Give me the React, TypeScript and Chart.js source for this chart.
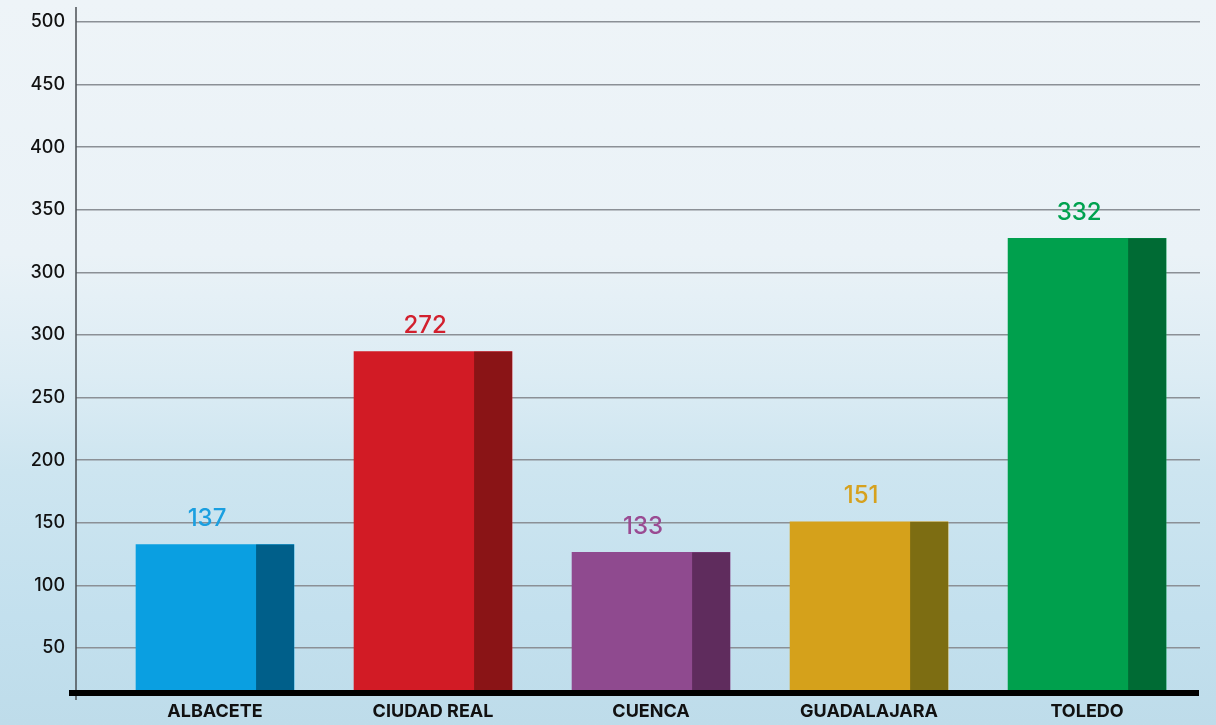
import React, { useEffect, useRef } from "react";
import { Chart, registerables } from "chart.js";

Chart.register(...registerables);

// ---- data ----
const categories = ["ALBACETE", "CIUDAD REAL", "CUENCA", "GUADALAJARA", "TOLEDO"];
// bar heights measured against the drawn gridlines (gridline units)
const barHeights = [132.7, 286.7, 126.4, 150.8, 377.2];
// value labels printed above the bars
const valueLabels = ["137", "272", "133", "151", "332"];
// gridline positions (gridline units) and the tick labels printed next to them
const gridValues = [50, 100, 150, 200, 250, 300, 350, 400, 450, 500, 550];
const yTickLabels = ["50", "100", "150", "200", "250", "300", "300", "350", "400", "450", "500"];

const faceColors = ["#0a9fe1", "#d21b25", "#8f4a8f", "#d5a11b", "#00a04d"];
const sideColors = ["#005f8a", "#8a1416", "#5f2c5d", "#7d6d12", "#006b34"];
const labelColors = ["#1a9fe0", "#d2202e", "#9a4b92", "#d6a11e", "#00a24f"];

const FONT = "Inter, 'Open Sans', 'DejaVu Sans', sans-serif";

const decorPlugin = {
  id: "decor",
  afterDatasetsDraw(chart: any) {
    const ctx = chart.ctx;
    const meta = chart.getDatasetMeta(0);
    const area = chart.chartArea;
    ctx.save();
    meta.data.forEach((bar: any, i: number) => {
      const w = bar.width;
      const right = bar.x + w / 2;
      const sideW = w * 0.24;
      const bottom = Math.min(bar.base, area.bottom);
      ctx.fillStyle = sideColors[i];
      ctx.fillRect(right - sideW, bar.y, sideW, bottom - bar.y);
      ctx.fillStyle = labelColors[i];
      ctx.font = `500 24px ${FONT}`;
      ctx.textAlign = "center";
      ctx.textBaseline = "middle";
      ctx.fillText(valueLabels[i], bar.x - 8, bar.y - 26);
    });
    // y axis line
    ctx.strokeStyle = "#4a4f55";
    ctx.lineWidth = 1.5;
    ctx.beginPath();
    ctx.moveTo(area.left, area.top - 15);
    ctx.lineTo(area.left, area.bottom + 10);
    ctx.stroke();
    // thick baseline
    ctx.fillStyle = "#000";
    ctx.fillRect(area.left - 7, area.bottom, area.right - area.left + 6, 6);
    ctx.restore();
  },
};

export default function App() {
  const canvasRef = useRef<HTMLCanvasElement | null>(null);

  useEffect(() => {
    document.body.style.margin = "0";
    const canvas = canvasRef.current;
    if (!canvas) return;
    const chart = new Chart(canvas, {
      type: "bar",
      data: {
        datasets: [
          {
            data: categories.map((c, i) => ({ x: i, y: barHeights[i] })),
            backgroundColor: faceColors,
            borderWidth: 0,
            barThickness: 158,
          },
        ],
      },
      options: {
        animation: false,
        responsive: true,
        maintainAspectRatio: false,
        layout: { padding: { top: 22, right: 16, left: 0, bottom: 0 } },
        plugins: {
          legend: { display: false },
          tooltip: { enabled: false },
        },
        scales: {
          x: {
            type: "linear",
            offset: false,
            min: -0.6376,
            max: 4.518,
            grid: { display: false, drawTicks: false, offset: false },
            border: { display: false },
            afterBuildTicks: (scale: any) => {
              scale.ticks = categories.map((c, i) => ({ value: i }));
            },
            afterFit: (scale: any) => {
              scale.height = 35;
            },
            ticks: {
              padding: 11,
              color: "#111",
              font: { family: FONT, size: 18, weight: "bold" },
              callback: (v: any) => categories[Math.round(Number(v))] ?? "",
              maxRotation: 0,
              autoSkip: false,
            },
          },
          y: {
            min: 16.5,
            max: 550,
            grid: { color: "#8b9096", lineWidth: 1.5, drawTicks: false },
            border: { display: false },
            afterBuildTicks: (scale: any) => {
              scale.ticks = gridValues.map((v) => ({ value: v }));
            },
            afterFit: (scale: any) => {
              scale.width = 76;
            },
            ticks: {
              padding: 11,
              color: "#111",
              font: { family: FONT, size: 18, weight: "500" },
              callback: (v: any, idx: number) => yTickLabels[idx] ?? "",
              autoSkip: false,
            },
          },
        },
      },
      plugins: [decorPlugin],
    });
    return () => chart.destroy();
  }, []);

  return (
    <div
      style={{
        width: 1216,
        height: 725,
        position: "relative",
        background:
          "linear-gradient(180deg, #eef4f8 0%, #eaf2f7 35%, #dcecf4 52%, #cde5f0 65%, #c3e0ee 85%, #bedcea 100%)",
      }}
    >
      <canvas ref={canvasRef} />
    </div>
  );
}
